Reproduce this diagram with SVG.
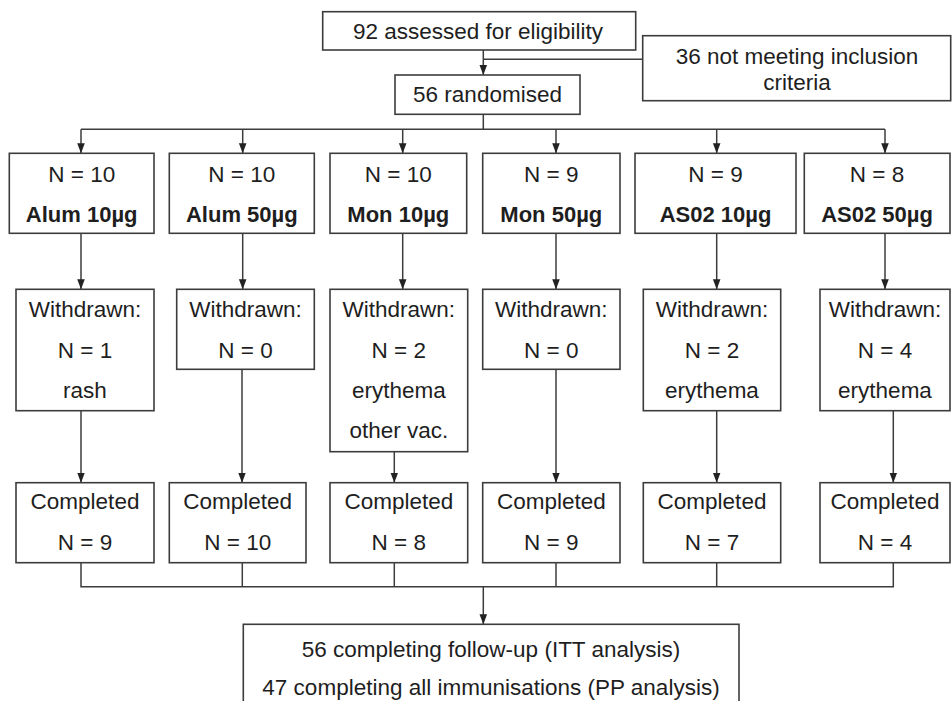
<svg xmlns="http://www.w3.org/2000/svg" width="952" height="701" viewBox="0 0 952 701">
<defs>
<style>
.box{fill:#fff;stroke:#3c3c3c;stroke-width:1.6}
.ln{fill:none;stroke:#3c3c3c;stroke-width:1.5}
text{font-family:"Liberation Sans",Arial,sans-serif;font-size:22.5px;fill:#1e1e1e;text-anchor:middle}
.b{font-weight:bold;font-size:22px}
</style>
<marker id="ah" markerUnits="userSpaceOnUse" markerWidth="10" markerHeight="10" viewBox="0 0 10 10" refX="10" refY="5" orient="auto">
<path d="M0,1.2 L10,5 L0,8.8 Z" fill="#222"/>
</marker>
</defs>
<rect width="952" height="701" fill="#fff"/>

<g id="connectors">
<path class="ln" d="M483.3,50 V75" marker-end="url(#ah)"/>
<path class="ln" d="M483.3,59.3 H642.7"/>
<path class="ln" d="M483.3,114.3 V129.3"/>
<path class="ln" d="M81,129.3 H885"/>
<path class="ln" d="M81,129.3 V153.3" marker-end="url(#ah)"/>
<path class="ln" d="M242.7,129.3 V153.3" marker-end="url(#ah)"/>
<path class="ln" d="M402.7,129.3 V153.3" marker-end="url(#ah)"/>
<path class="ln" d="M556,129.3 V153.3" marker-end="url(#ah)"/>
<path class="ln" d="M716.7,129.3 V153.3" marker-end="url(#ah)"/>
<path class="ln" d="M885,129.3 V153.3" marker-end="url(#ah)"/>
<path class="ln" d="M81,233.3 V289.3" marker-end="url(#ah)"/>
<path class="ln" d="M242.7,233.3 V289.3" marker-end="url(#ah)"/>
<path class="ln" d="M402.7,233.3 V289.3" marker-end="url(#ah)"/>
<path class="ln" d="M556,233.3 V289.3" marker-end="url(#ah)"/>
<path class="ln" d="M716.7,233.3 V289.3" marker-end="url(#ah)"/>
<path class="ln" d="M885,233.3 V289.3" marker-end="url(#ah)"/>
<path class="ln" d="M81,410.7 V482.7" marker-end="url(#ah)"/>
<path class="ln" d="M242,369.3 V482.7" marker-end="url(#ah)"/>
<path class="ln" d="M394.3,451.7 V482.7" marker-end="url(#ah)"/>
<path class="ln" d="M556,369.3 V482.7" marker-end="url(#ah)"/>
<path class="ln" d="M716.7,410.7 V482.7" marker-end="url(#ah)"/>
<path class="ln" d="M893.3,410.7 V482.7" marker-end="url(#ah)"/>
<path class="ln" d="M81,562.7 V586.7 H893.3 V562.7"/>
<path class="ln" d="M242.3,562.7 V586.7"/>
<path class="ln" d="M394.3,562.7 V586.7"/>
<path class="ln" d="M556,562.7 V586.7"/>
<path class="ln" d="M716.7,562.7 V586.7"/>
<path class="ln" d="M483.3,586.7 V624.3" marker-end="url(#ah)"/>
</g>

<g id="assessed"><rect class="box" x="322.7" y="11.7" width="313" height="38.3"/><text x="478" y="38.5">92 assessed for eligibility</text></g>
<g id="excluded"><rect class="box" x="642.7" y="35.7" width="308" height="65"/><text x="797" y="64">36 not meeting inclusion</text><text x="797" y="89.5">criteria</text></g>
<g id="randomised"><rect class="box" x="395" y="75" width="185" height="39.3"/><text x="487.5" y="102">56 randomised</text></g>

<g id="g1"><rect class="box" x="9.3" y="153.3" width="144.7" height="80"/><text x="81.7" y="181.5">N = 10</text><text class="b" x="81.7" y="222">Alum 10µg</text></g>
<g id="g2"><rect class="box" x="169.3" y="153.3" width="145" height="80"/><text x="241.8" y="181.5">N = 10</text><text class="b" x="241.8" y="222">Alum 50µg</text></g>
<g id="g3"><rect class="box" x="330" y="153.3" width="136.7" height="80"/><text x="398.3" y="181.5">N = 10</text><text class="b" x="398.3" y="222">Mon 10µg</text></g>
<g id="g4"><rect class="box" x="482.7" y="153.3" width="137.3" height="80"/><text x="551.3" y="181.5">N = 9</text><text class="b" x="551.3" y="222">Mon 50µg</text></g>
<g id="g5"><rect class="box" x="635" y="153.3" width="161" height="80"/><text x="715.5" y="181.5">N = 9</text><text class="b" x="715.5" y="222">AS02 10µg</text></g>
<g id="g6"><rect class="box" x="804.3" y="153.3" width="145.7" height="80"/><text x="877" y="181.5">N = 8</text><text class="b" x="877" y="222">AS02 50µg</text></g>

<g id="w1"><rect class="box" x="16" y="289.3" width="138" height="121.4"/><text x="85" y="317">Withdrawn:</text><text x="85" y="358">N = 1</text><text x="85" y="398">rash</text></g>
<g id="w2"><rect class="box" x="176.7" y="289.3" width="137.6" height="80"/><text x="245.5" y="317">Withdrawn:</text><text x="245.5" y="358">N = 0</text></g>
<g id="w3"><rect class="box" x="330" y="289.3" width="137.7" height="162.4"/><text x="398.8" y="317">Withdrawn:</text><text x="398.8" y="358">N = 2</text><text x="398.8" y="398">erythema</text><text x="398.8" y="438">other vac.</text></g>
<g id="w4"><rect class="box" x="482.7" y="289.3" width="137.3" height="80"/><text x="551.3" y="317">Withdrawn:</text><text x="551.3" y="358">N = 0</text></g>
<g id="w5"><rect class="box" x="643.3" y="289.3" width="137.4" height="121.4"/><text x="712" y="317">Withdrawn:</text><text x="712" y="358">N = 2</text><text x="712" y="398">erythema</text></g>
<g id="w6"><rect class="box" x="820" y="289.3" width="130" height="121.4"/><text x="885" y="317">Withdrawn:</text><text x="885" y="358">N = 4</text><text x="885" y="398">erythema</text></g>

<g id="c1"><rect class="box" x="16" y="482.7" width="138" height="80"/><text x="85" y="509">Completed</text><text x="85" y="549.5">N = 9</text></g>
<g id="c2"><rect class="box" x="169.3" y="482.7" width="136.7" height="80"/><text x="237.7" y="509">Completed</text><text x="237.7" y="549.5">N = 10</text></g>
<g id="c3"><rect class="box" x="330" y="482.7" width="137.7" height="80"/><text x="398.8" y="509">Completed</text><text x="398.8" y="549.5">N = 8</text></g>
<g id="c4"><rect class="box" x="482.7" y="482.7" width="137.3" height="80"/><text x="551.3" y="509">Completed</text><text x="551.3" y="549.5">N = 9</text></g>
<g id="c5"><rect class="box" x="643.3" y="482.7" width="137.4" height="80"/><text x="712" y="509">Completed</text><text x="712" y="549.5">N = 7</text></g>
<g id="c6"><rect class="box" x="820" y="482.7" width="130" height="80"/><text x="885" y="509">Completed</text><text x="885" y="549.5">N = 4</text></g>

<g id="final"><rect class="box" x="243.3" y="624.3" width="495.7" height="90"/><text x="491" y="657">56 completing follow-up (ITT analysis)</text><text x="491" y="695">47 completing all immunisations (PP analysis)</text></g>
</svg>
